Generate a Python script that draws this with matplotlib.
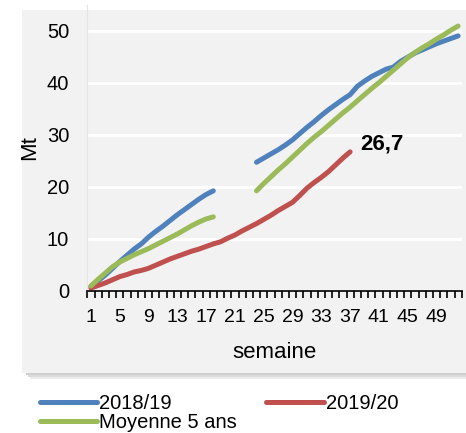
import matplotlib.pyplot as plt
import numpy as np
from matplotlib.patches import Rectangle

plt.rcParams['font.family'] = ['Liberation Sans', 'DejaVu Sans']

# weeks 1..52, nan = no data
weeks = np.arange(1, 53)
nan = np.nan
s2018 = [0.8, 1.9, 3.0, 4.3, 5.6, 6.8, 8.0, 9.0, 10.3, 11.4, 12.4, 13.5, 14.6, 15.6, 16.6, 17.6, 18.5, 19.2,
         nan, nan, nan, nan, nan,
         24.7, 25.5, 26.3, 27.1, 28.0, 29.0, 30.2, 31.4, 32.5, 33.7, 34.8, 35.8, 36.8, 37.7, 39.3, 40.3,
         41.2, 41.9, 42.6, 43.0, 44.1, 44.9, 45.7, 46.3, 46.9, 47.5, 48.0, 48.5, 49.0]
s2019 = [0.5, 1.0, 1.5, 2.1, 2.7, 3.1, 3.6, 3.9, 4.3, 4.9, 5.5, 6.1, 6.6, 7.1, 7.6, 8.0, 8.5, 9.0, 9.4,
         10.1, 10.7, 11.5, 12.2, 12.9, 13.7, 14.5, 15.4, 16.2, 17.0, 18.3, 19.7, 20.8, 21.8, 22.9, 24.2,
         25.5, 26.7] + [nan] * 15
moy5 = [0.9, 2.2, 3.4, 4.6, 5.5, 6.2, 6.9, 7.5, 8.1, 8.8, 9.5, 10.2, 10.9, 11.7, 12.5, 13.2, 13.8, 14.2,
        nan, nan, nan, nan, nan,
        19.2, 20.6, 21.9, 23.2, 24.4, 25.7, 27.0, 28.3, 29.5, 30.6, 31.8, 33.0, 34.2, 35.3, 36.5, 37.7,
        38.9, 40.0, 41.2, 42.4, 43.6, 44.8, 45.8, 46.7, 47.5, 48.4, 49.2, 50.1, 50.9]
xtick_labels = list(range(1, 53, 4))

fig = plt.figure(figsize=(4.66, 4.33), dpi=100, facecolor='white')

# chart panel with a soft shadow
W, H = 466, 433
for off, col in [(6, '#ececec'), (4, '#dcdcdc'), (2, '#cfcfcf')]:
    fig.patches.append(Rectangle((24 / W + off / W, 1 - (373 + off) / H), 442 / W, 363 / H,
                                 transform=fig.transFigure, facecolor=col, edgecolor='none', zorder=-2))
fig.patches.append(Rectangle((22 / W, 1 - 373 / H), 444 / W, 363 / H, transform=fig.transFigure,
                             facecolor='#f2f2f2', edgecolor='none', zorder=-1))

ax = fig.add_axes([87.3 / W, 1 - 290.7 / H, 374.4 / W, 286 / H])
ax.set_facecolor('none')

lw = 3.6
l1, = ax.plot(weeks, s2018, color='#4f81bd', lw=lw, solid_capstyle='round', label='2018/19')
l2, = ax.plot(weeks, s2019, color='#c0504d', lw=lw, solid_capstyle='round', label='2019/20')
l3, = ax.plot(weeks, moy5, color='#9bbb59', lw=lw, solid_capstyle='round', label='Moyenne 5 ans')

last = max(i for i, v in enumerate(s2019) if not np.isnan(v))
ax.annotate(f"{s2019[last]:.1f}".replace('.', ','), xy=(weeks[last], s2019[last]),
            xytext=(7, 5.5), textcoords='offset points', ha='left', va='center',
            fontsize=16, fontweight='bold')

ax.set_xlim(0.5, 52.5)
ax.set_ylim(0, 55)
ax.set_yticks([0, 10, 20, 30, 40, 50])
ax.set_xticks(xtick_labels)
ax.set_xticks(np.arange(0.5, 53, 1), minor=True)
ax.tick_params(axis='x', which='major', length=0, labelsize=14, pad=13)
ax.tick_params(axis='x', which='minor', length=5, width=1.2, color='black')
ax.tick_params(axis='y', length=0, labelsize=14.5, pad=13)
ax.grid(axis='y', color='white', lw=2)
ax.set_axisbelow(True)
for s in ['top', 'right']:
    ax.spines[s].set_visible(False)
ax.spines['left'].set_color('#e4e4e4')
ax.spines['bottom'].set_color('black')
ax.spines['bottom'].set_linewidth(1.2)

ax.set_xlabel('semaine', fontsize=16, labelpad=12)
ax.set_ylabel('Mt', fontsize=16, labelpad=5)

fig.legend(handles=[l1, l3, l2], ncol=2, loc='upper left', bbox_to_anchor=(40 / W, 1 - 394 / H),
           frameon=False, fontsize=14.5, handlelength=2.85, handletextpad=0.1, columnspacing=1.45,
           labelspacing=0.0, borderaxespad=0, borderpad=0)

fig.savefig('out.png', dpi=100, facecolor='white')
